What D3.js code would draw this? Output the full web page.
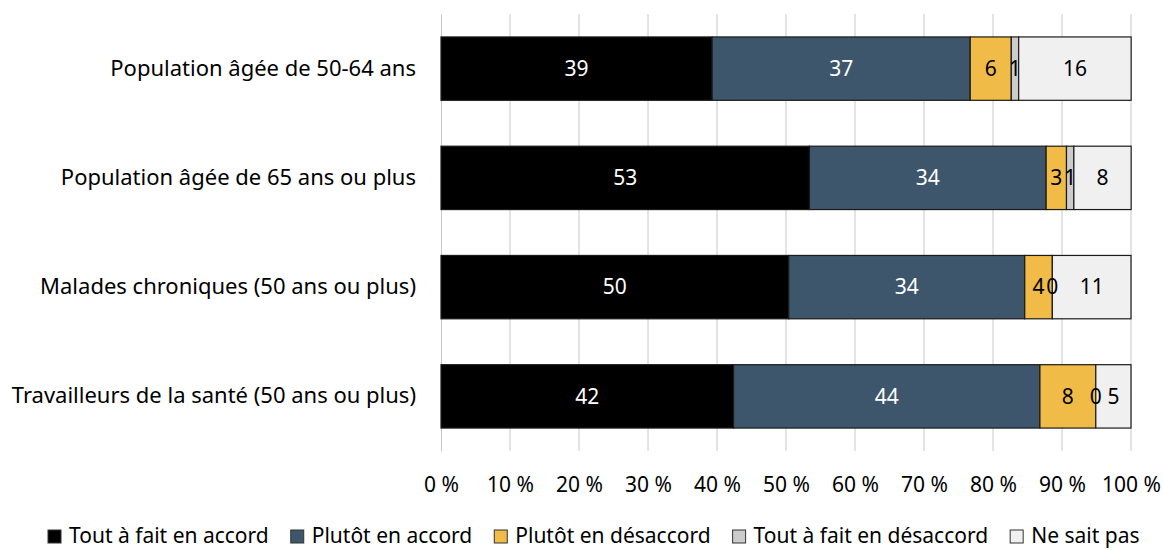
<!DOCTYPE html>
<html>
<head>
<meta charset="utf-8">
<script src="https://cdn.jsdelivr.net/npm/d3@7"></script>
<style>
  body { margin: 0; background: #fff; }
  text { font-family: "Noto Sans", sans-serif; }
</style>
</head>
<body>
<div id="chart"></div>
<script>
var categories = ["Population âgée de 50-64 ans", "Population âgée de 65 ans ou plus",
                  "Malades chroniques (50 ans ou plus)", "Travailleurs de la santé (50 ans ou plus)"];
var seriesNames = ["Tout à fait en accord", "Plutôt en accord", "Plutôt en désaccord",
                   "Tout à fait en désaccord", "Ne sait pas"];
var toutAccord = [39.3, 53.4, 50.4, 42.4];
var plutotAccord = [37.4, 34.3, 34.2, 44.4];
var plutotDesaccord = [5.95, 2.95, 4.0, 8.1];
var toutDesaccord = [1.07, 1.07, 0, 0];
var neSaitPas = [16.3, 8.3, 11.4, 5.1];
var xTicks = [0, 10, 20, 30, 40, 50, 60, 70, 80, 90, 100];

var colours = ["#000000", "#3d566b", "#f0bb46", "#cccccc", "#f0f0f0"];
var labelColours = ["#ffffff", "#ffffff", "#000000", "#000000", "#000000"];

var margin = { left: 441, right: 32, top: 14, bottom: 99 };
var width = 1163 - margin.left - margin.right,
    height = 550 - margin.top - margin.bottom;

var svg = d3.select("#chart")
    .append("svg")
        .attr("width", 1163)
        .attr("height", 550)
    .append("g")
        .attr("transform", "translate(" + margin.left + "," + margin.top + ")");

var table = categories.map(function(c, i) {
    var row = { name: c };
    row[seriesNames[0]] = toutAccord[i];
    row[seriesNames[1]] = plutotAccord[i];
    row[seriesNames[2]] = plutotDesaccord[i];
    row[seriesNames[3]] = toutDesaccord[i];
    row[seriesNames[4]] = neSaitPas[i];
    return row;
});

var stacked = d3.stack().keys(seriesNames)(table);

var xScale = d3.scaleLinear().domain([0, 100]).range([0, width]);
var yScale = d3.scaleBand().domain(categories).range([0, height]).paddingInner(0.42).paddingOuter(0.21);

// vertical gridlines
svg.append("g")
    .selectAll("line")
    .data(xTicks.slice(1))
    .enter()
    .append("line")
        .attr("x1", function(d) { return xScale(d); })
        .attr("x2", function(d) { return xScale(d); })
        .attr("y1", 0)
        .attr("y2", height)
        .style("stroke", "#c8c8c8")
        .style("stroke-width", 1);

var xaxis = d3.axisBottom(xScale)
    .tickValues(xTicks)
    .tickSize(0)
    .tickPadding(26)
    .tickFormat(function(d) { return d + " %"; });

var gx = svg.append("g")
    .attr("transform", "translate(0," + height + ")")
    .call(xaxis);
gx.select(".domain").remove();
gx.selectAll("text")
    .attr("font-size", "21px")
    .style("font-family", "'Noto Sans', sans-serif")
    .style("fill", "#000");

var yaxis = d3.axisLeft(yScale).tickSize(0).tickPadding(25);
var gy = svg.append("g").call(yaxis);
gy.select(".domain").style("stroke", "#c8c8c8");
gy.selectAll("text")
    .attr("font-size", "22px")
    .style("font-family", "'Noto Sans', sans-serif")
    .style("fill", "#000");

var layers = svg.selectAll(".layer")
    .data(stacked)
    .enter()
    .append("g")
        .attr("class", "layer");

layers.selectAll("rect")
    .data(function(d) { return d; })
    .enter()
    .append("rect")
        .attr("x", function(d) { return xScale(d[0]); })
        .attr("y", function(d) { return yScale(d.data.name); })
        .attr("width", function(d) { return xScale(d[1]) - xScale(d[0]); })
        .attr("height", yScale.bandwidth())
        .style("fill", function(d) { return colours[seriesNames.indexOf(this.parentNode.__data__.key)]; })
        .style("stroke", "#1a1a1a")
        .style("stroke-width", 1.2);

// labels on top of every segment
var labels = svg.append("g");
stacked.forEach(function(s, si) {
    labels.selectAll("text.s" + si)
        .data(s)
        .enter()
        .append("text")
            .attr("class", "s" + si)
            .attr("x", function(d) { return (xScale(d[0]) + xScale(d[1])) / 2; })
            .attr("y", function(d) { return yScale(d.data.name) + yScale.bandwidth() / 2; })
            .attr("dy", "0.35em")
            .attr("text-anchor", "middle")
            .attr("font-size", "21px")
            .style("fill", labelColours[si])
            .text(function(d) { return Math.round(d[1] - d[0]); });
});

// legend
var legend = d3.select("svg").append("g");
var lx = 48;
seriesNames.forEach(function(name, i) {
    var item = legend.append("g").attr("transform", "translate(" + lx + ",536)");
    item.append("rect")
        .attr("x", 0)
        .attr("y", -6)
        .attr("width", 13)
        .attr("height", 13)
        .style("fill", colours[i])
        .style("stroke", "#333")
        .style("stroke-width", 1);
    var t = item.append("text")
        .attr("x", 21)
        .attr("dy", "0.35em")
        .attr("font-size", "21px")
        .style("fill", "#000")
        .text(name);
    lx += 21 + t.node().getComputedTextLength() + 22;
});
</script>
</body>
</html>
